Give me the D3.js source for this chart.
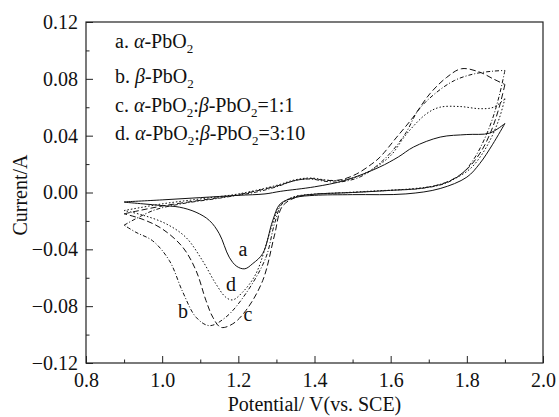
<!DOCTYPE html>
<html>
<head>
<meta charset="utf-8">
<script src="https://cdn.jsdelivr.net/npm/d3@7/dist/d3.min.js"></script>
<style>
  body { margin: 0; background: #fff; }
  svg { display: block; font-family: "Liberation Serif", "Times New Roman", serif; }
  .tick text { font-family: "Liberation Serif", "Times New Roman", serif; font-size: 20px; fill: #111; }
  .tick line { stroke: #222; }
</style>
</head>
<body>
<svg id="chart" width="559" height="417"></svg>
<script>
// potential (V) / current (A) pairs
const aAnodic = [[0.90,-0.0066],[1.00,-0.0052],[1.10,-0.0036],[1.20,-0.002],[1.27,-0.001],[1.31,0.0008],[1.40,0.004],[1.48,0.0085],[1.57,0.0178],[1.62,0.025],[1.66,0.032],[1.73,0.039],[1.80,0.0408],[1.86,0.0418],[1.90,0.0486]];
const aCathodic = [[1.90,0.0486],[1.868,0.034],[1.834,0.0204],[1.80,0.0108],[1.73,0.0028],[1.64,-0.001],[1.50,-0.0015],[1.40,-0.002],[1.35,-0.0035],[1.31,-0.008],[1.29,-0.02],[1.264,-0.043],[1.238,-0.050],[1.217,-0.0537],[1.196,-0.052],[1.176,-0.0455],[1.15,-0.029],[1.124,-0.0197],[1.089,-0.0139],[1.045,-0.0103],[1.0,-0.0092],[0.95,-0.008],[0.90,-0.0068]];

const bAnodic = [[0.90,-0.023],[0.976,-0.0127],[1.05,-0.008],[1.15,-0.004],[1.25,0.0005],[1.30,0.004],[1.35,0.0085],[1.39,0.0095],[1.43,0.0078],[1.47,0.0075],[1.52,0.011],[1.56,0.018],[1.60,0.028],[1.64,0.042],[1.672,0.0577],[1.716,0.0695],[1.768,0.0789],[1.821,0.0836],[1.869,0.0854],[1.90,0.0859]];
const bCathodic = [[1.90,0.0859],[1.885,0.068],[1.865,0.05],[1.84,0.034],[1.816,0.0225],[1.79,0.014],[1.747,0.0068],[1.685,0.003],[1.60,0.0015],[1.50,0.0],[1.40,-0.0012],[1.35,-0.003],[1.315,-0.008],[1.295,-0.022],[1.272,-0.046],[1.22,-0.071],[1.167,-0.0878],[1.124,-0.0937],[1.089,-0.0878],[1.054,-0.070],[1.019,-0.048],[0.975,-0.034],[0.931,-0.028],[0.90,-0.023]];

const cAnodic = [[0.90,-0.015],[1.0,-0.0095],[1.1,-0.0055],[1.2,-0.0015],[1.30,0.0045],[1.35,0.0085],[1.39,0.0098],[1.43,0.0085],[1.47,0.009],[1.51,0.013],[1.55,0.02],[1.572,0.0249],[1.616,0.039],[1.659,0.053],[1.703,0.0695],[1.747,0.081],[1.786,0.0871],[1.834,0.0847],[1.869,0.080],[1.90,0.076]];
const cCathodic = [[1.90,0.076],[1.885,0.06],[1.865,0.044],[1.84,0.03],[1.81,0.019],[1.78,0.012],[1.74,0.0065],[1.68,0.003],[1.60,0.0015],[1.50,0.0],[1.40,-0.0012],[1.35,-0.0035],[1.315,-0.01],[1.295,-0.03],[1.264,-0.062],[1.22,-0.083],[1.185,-0.0925],[1.154,-0.0949],[1.133,-0.0878],[1.115,-0.076],[1.089,-0.055],[1.054,-0.0385],[1.0,-0.0256],[0.95,-0.019],[0.90,-0.015]];

const dAnodic = [[0.90,-0.0127],[1.0,-0.008],[1.1,-0.0045],[1.2,-0.001],[1.30,0.005],[1.35,0.009],[1.39,0.0102],[1.43,0.0088],[1.47,0.0085],[1.51,0.011],[1.55,0.016],[1.60,0.026],[1.642,0.0413],[1.694,0.0554],[1.729,0.060],[1.782,0.0605],[1.834,0.059],[1.87,0.060],[1.90,0.066]];
const dCathodic = [[1.90,0.066],[1.885,0.052],[1.865,0.039],[1.84,0.027],[1.81,0.017],[1.77,0.01],[1.72,0.005],[1.65,0.0025],[1.55,0.001],[1.45,-0.0005],[1.38,-0.0015],[1.34,-0.0035],[1.31,-0.009],[1.29,-0.022],[1.246,-0.0573],[1.211,-0.0702],[1.185,-0.0756],[1.167,-0.0737],[1.141,-0.0643],[1.106,-0.048],[1.062,-0.0315],[1.01,-0.022],[0.95,-0.016],[0.90,-0.0127]];

const xTicks = [0.8, 1.0, 1.2, 1.4, 1.6, 1.8, 2.0];
const yTicks = [-0.12, -0.08, -0.04, 0.00, 0.04, 0.08, 0.12];
const curveLabels = [["a", 1.212, -0.0447], ["b", 1.055, -0.0884], ["c", 1.225, -0.0905], ["d", 1.181, -0.0694]];
const legendRows = [
  [["a. ", ""], ["α", "i"], ["-PbO", ""], ["2", "s"]],
  [["b. ", ""], ["β", "i"], ["-PbO", ""], ["2", "s"]],
  [["c. ", ""], ["α", "i"], ["-PbO", ""], ["2", "s"], [":", ""], ["β", "i"], ["-PbO", ""], ["2", "s"], ["=1:1", ""]],
  [["d. ", ""], ["α", "i"], ["-PbO", ""], ["2", "s"], [":", ""], ["β", "i"], ["-PbO", ""], ["2", "s"], ["=3:10", ""]]
];

const svg = d3.select("#chart");
const mLeft = 86, mRight = 543, mTop = 22, mBottom = 363;

const x = d3.scaleLinear().domain([0.8, 2.0]).range([mLeft, mRight]);
const y = d3.scaleLinear().domain([-0.12, 0.12]).range([mBottom, mTop]);

const plainAxis = g => g.attr("font-family", null).attr("font-size", null).select(".domain").remove();

// minor ticks
svg.append("g")
    .attr("transform", `translate(0,${mBottom})`)
    .call(d3.axisBottom(x).tickValues(d3.range(0.9, 2.0, 0.2)).tickSize(-3.5).tickFormat(""))
    .call(plainAxis);
svg.append("g")
    .attr("transform", `translate(${mLeft},0)`)
    .call(d3.axisLeft(y).tickValues(d3.range(-0.10, 0.11, 0.04)).tickSize(-3.5).tickFormat(""))
    .call(plainAxis);

// major ticks
svg.append("g")
    .attr("transform", `translate(0,${mBottom})`)
    .call(d3.axisBottom(x).tickValues(xTicks).tickSize(-7).tickPadding(10).tickFormat(d3.format(".1f")))
    .call(plainAxis);
svg.append("g")
    .attr("transform", `translate(${mLeft},0)`)
    .call(d3.axisLeft(y).tickValues(yTicks).tickSize(-7).tickPadding(8).tickFormat(d3.format(".2f")))
    .call(plainAxis);

svg.append("rect")
    .attr("x", mLeft).attr("y", mTop)
    .attr("width", mRight - mLeft).attr("height", mBottom - mTop)
    .attr("fill", "none").attr("stroke", "#222").attr("stroke-width", 1.2);

const line = d3.line()
    .x(d => x(d[0]))
    .y(d => y(d[1]))
    .curve(d3.curveCatmullRom.alpha(0.5));

const series = [
  { branches: [aAnodic, aCathodic], dash: null },
  { branches: [bAnodic, bCathodic], dash: "4,2,1,2" },
  { branches: [cAnodic, cCathodic], dash: "6,3" },
  { branches: [dAnodic, dCathodic], dash: "1.5,2" }
];

series.forEach(s => {
    s.branches.forEach(br => {
        svg.append("path")
            .attr("d", line(br))
            .attr("fill", "none")
            .attr("stroke", "#111")
            .attr("stroke-width", 1)
            .attr("stroke-dasharray", s.dash);
    });
});

svg.selectAll(".clabel")
    .data(curveLabels)
    .join("text")
    .attr("class", "clabel")
    .attr("x", d => x(d[1]))
    .attr("y", d => y(d[2]))
    .attr("text-anchor", "middle")
    .attr("font-size", 20)
    .attr("fill", "#111")
    .text(d => d[0]);

const legendY = [48, 83, 112, 140];
legendRows.forEach((row, i) => {
    const t = svg.append("text")
        .attr("x", 115).attr("y", legendY[i])
        .attr("font-size", 20).attr("fill", "#111")
        .attr("xml:space", "preserve");
    let sub = false;
    row.forEach(([txt, kind]) => {
        const ts = t.append("tspan").text(txt);
        if (kind === "i") ts.attr("font-style", "italic");
        if (kind === "s") { ts.attr("font-size", 13).attr("dy", 5); sub = true; }
        else if (sub) { ts.attr("dy", -5); sub = false; }
    });
});

svg.append("text")
    .attr("transform", `translate(27,195) rotate(-90)`)
    .attr("text-anchor", "middle")
    .attr("font-size", 20).attr("fill", "#111")
    .text("Current/A");

svg.append("text")
    .attr("x", (mLeft + mRight) / 2).attr("y", 411)
    .attr("text-anchor", "middle")
    .attr("font-size", 20).attr("fill", "#111")
    .attr("xml:space", "preserve")
    .text("Potential/ V(vs. SCE)");
</script>
</body>
</html>
